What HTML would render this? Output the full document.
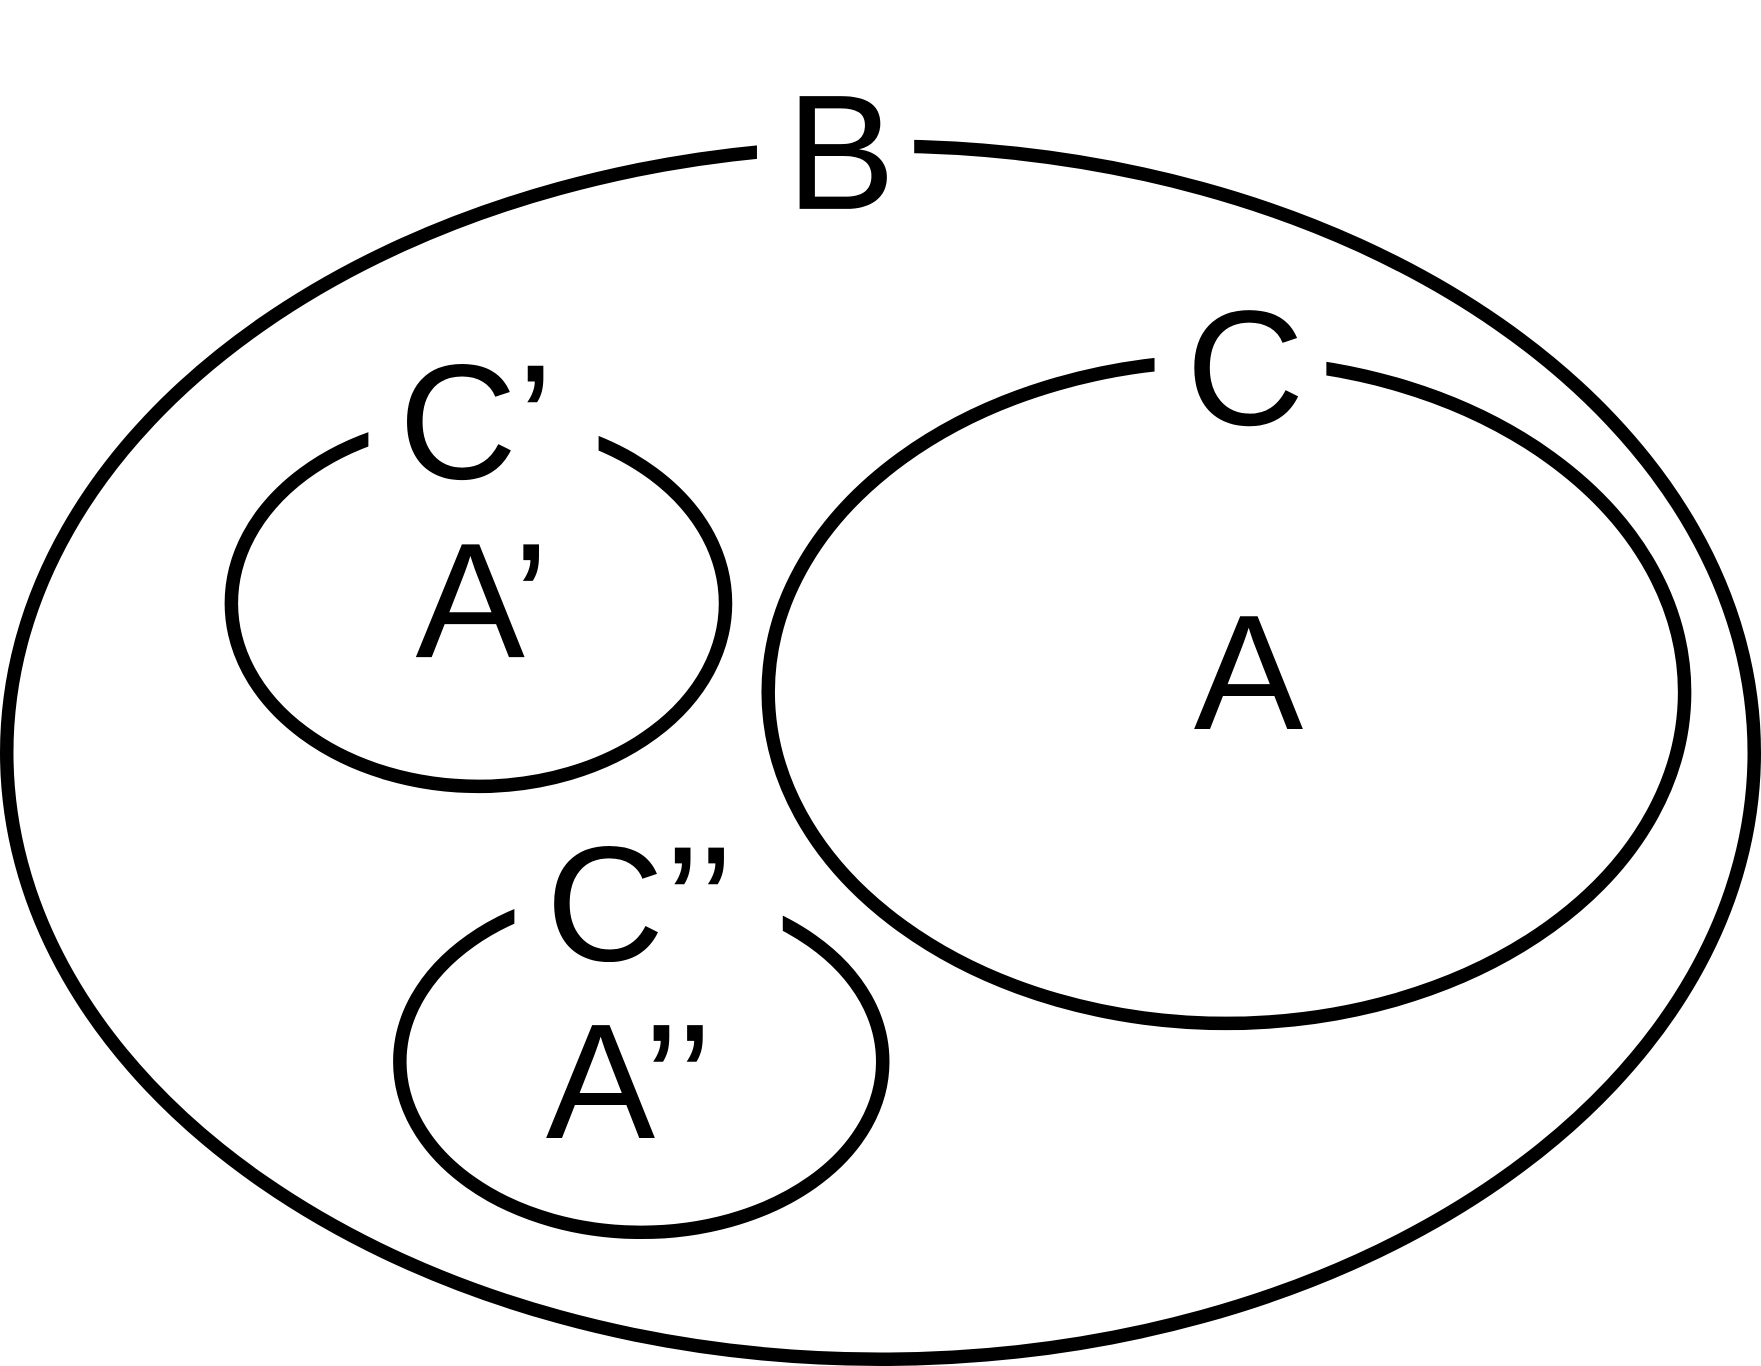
<!DOCTYPE html>
<html><head><meta charset="utf-8"><style>
html,body{margin:0;padding:0;background:#fff;}
svg{display:block;}
text{font-family:"Liberation Sans",Arial,sans-serif;font-size:146px;fill:#000;}
</style></head><body>
<svg width="1761" height="1366" viewBox="0 0 1568 1216" preserveAspectRatio="none" xmlns="http://www.w3.org/2000/svg">
<rect width="1568" height="1216" fill="#fff"/>
<g fill="none" stroke="#000" stroke-width="12">
<ellipse cx="784" cy="670" rx="778" ry="540"/>
<ellipse cx="1092" cy="616" rx="408" ry="295"/>
<ellipse cx="426" cy="537" rx="220" ry="163"/>
<ellipse cx="571" cy="945" rx="215" ry="152"/>
</g>
<g fill="#fff">
<rect x="674" y="105" width="140" height="50"/>
<rect x="1028" y="295" width="153" height="50"/>
<rect x="328" y="355" width="205" height="50"/>
<rect x="458" y="772" width="239" height="58"/>
</g>
<text x="700" y="186">B</text>
<text x="1056" y="378">C</text>
<text x="355" y="426">C’</text>
<text x="370" y="585">A’</text>
<text x="1063" y="649">A</text>
<text x="486" y="855">C’’</text>
<text x="486" y="1013">A’’</text>
</svg>
</body></html>
